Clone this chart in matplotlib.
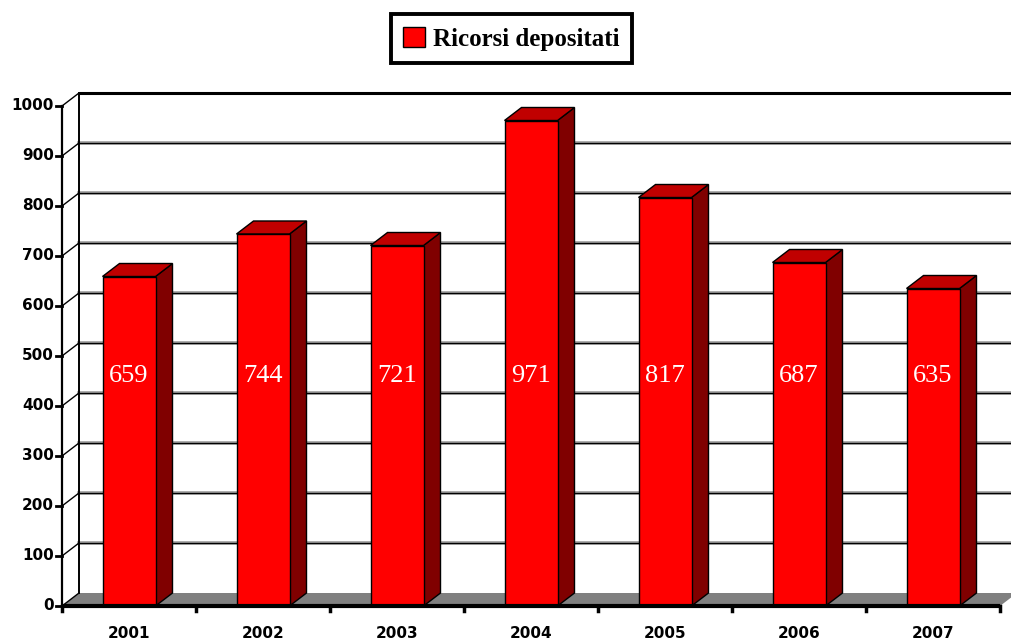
import matplotlib
matplotlib.use("Agg")
import matplotlib.pyplot as plt
from matplotlib.patches import Polygon, Rectangle, Patch

years = ["2001", "2002", "2003", "2004", "2005", "2006", "2007"]
ricorsi = [659, 744, 721, 971, 817, 687, 635]
yticks = list(range(0, 1001, 100))
legend_label = "Ricorsi depositati"

W, H = 1011, 642
fig = plt.figure(figsize=(W / 100, H / 100), dpi=100)
fig.patch.set_facecolor("white")
ax = fig.add_axes([62 / W, 36 / H, 938 / W, 500 / H])
ax.set_xlim(-0.5, len(years) - 0.5)
ax.set_ylim(0, 1000)
ax.axis("off")

# depth offset in data units (17 px right, 13 px up)
px_x = 938 / len(years)
px_y = 500 / 1000
DX = 17 / px_x
DY = 13 / px_y
x0, x1 = -0.5, len(years) - 0.5

# floor
ax.add_patch(Polygon([(x0, 0), (x1, 0), (x1 + DX, DY), (x0 + DX, DY)],
                     closed=True, facecolor="#808080", edgecolor="none",
                     zorder=1, clip_on=False))

# back wall gridlines + left wall diagonals
for v in yticks:
    if v == 1000:
        ax.plot([x0 + DX, x1 + 2 * DX], [v + DY, v + DY], color="black",
                lw=2.2, zorder=2, clip_on=False, solid_capstyle="butt")
    elif v > 0:
        ax.plot([x0 + DX, x1 + 2 * DX], [v + DY, v + DY], color="#9a9a9a",
                lw=2.6, zorder=2, clip_on=False)
        ax.plot([x0 + DX, x1 + 2 * DX], [v + DY, v + DY], color="black",
                lw=0.9, zorder=2.1, clip_on=False)
    ax.plot([x0, x0 + DX], [v, v + DY], color="black", lw=1.0, zorder=2,
            clip_on=False)
# back wall left edge
ax.plot([x0 + DX, x0 + DX], [DY, 1000 + DY], color="black", lw=1.4,
        zorder=2, clip_on=False)

# bars
bw = 53 / px_x
for i, v in enumerate(ricorsi):
    l, r = i - bw / 2, i + bw / 2
    ax.add_patch(Polygon([(r, 0), (r + DX, DY), (r + DX, v + DY), (r, v)],
                         closed=True, facecolor="#800000", edgecolor="black",
                         lw=1.0, zorder=3, clip_on=False))
    ax.add_patch(Polygon([(l, v), (r, v), (r + DX, v + DY), (l + DX, v + DY)],
                         closed=True, facecolor="#c00000", edgecolor="black",
                         lw=1.0, zorder=3, clip_on=False))
    ax.add_patch(Rectangle((l, 0), bw, v, facecolor="#ff0000",
                           edgecolor="black", lw=1.0, zorder=4, clip_on=False))
    ax.text(i, 460, str(v), color="white", fontsize=19,
            family="Liberation Serif", ha="center", va="center", zorder=5)

# front axes
ax.plot([x0, x0], [0, 1000], color="black", lw=1.6, zorder=6, clip_on=False)
ax.plot([x0, x1], [0, 0], color="black", lw=3, zorder=6, clip_on=False,
        solid_capstyle="butt")
tick_dx = 6 / px_x
for v in yticks:
    ax.plot([x0 - tick_dx, x0], [v, v], color="black", lw=2, zorder=6,
            clip_on=False)
    ax.text(x0 - tick_dx - 2 / px_x, v, str(v), ha="right", va="center",
            fontsize=11, fontweight="bold", family="DejaVu Sans",
            zorder=6)
for k in range(len(years) + 1):
    xb = k - 0.5
    ax.plot([xb, xb], [0, -10], color="black", lw=2.5, zorder=6,
            clip_on=False)
for i, y in enumerate(years):
    ax.text(i, -55, y, ha="center", va="center", fontsize=11,
            fontweight="bold", family="DejaVu Sans")

leg = fig.legend(handles=[Patch(facecolor="#ff0000", edgecolor="black",
                                label=legend_label)],
                 loc="upper center", bbox_to_anchor=(0.506, 0.997),
                 frameon=True, fancybox=False, framealpha=1,
                 handlelength=0.85, handleheight=0.85, handletextpad=0.35,
                 borderpad=0.5,
                 prop={"family": "Liberation Serif", "weight": "bold",
                       "size": 18})
leg.get_frame().set_edgecolor("black")
leg.get_frame().set_linewidth(2.8)

fig.savefig("out.png", dpi=100, facecolor="white")
